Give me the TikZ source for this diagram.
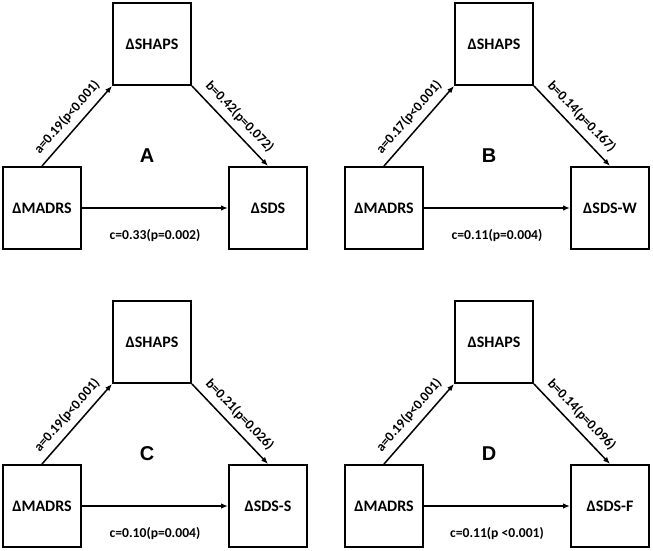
\documentclass[tikz,border=0pt]{standalone}
\usepackage{fontspec}
\setmainfont{Carlito}
\newfontfamily\letterfont{Liberation Sans}
\usetikzlibrary{arrows.meta}
\tikzset{
  varbox/.style={draw, line width=2pt, minimum width=78pt, minimum height=82pt, inner sep=0pt,
    font=\fontsize{16}{19}\selectfont\bfseries},
  pathline/.style={line width=1.5pt, -{Latex[length=7pt,width=5.5pt]}},
  coef/.style={font=\fontsize{13.6}{16}\selectfont\bfseries, inner sep=0pt},
  panelletter/.style={font=\fontsize{20}{24}\selectfont\letterfont\bfseries}
}
\newcommand{\mediationpanel}[8]{%
  \begin{scope}[shift={(#1,#2)}]
    \node[varbox] (S#3) at (152,44) {ΔSHAPS};
    \node[varbox] (M#3) at (42,208) {ΔMADRS};
    \node[varbox] (D#3) at (268,208) {Δ#4};
    \node[panelletter] (L#3) at (147,156) {#8};
    \draw[pathline] (M#3.north) -- node[coef, midway, sloped, above=6.5pt] (a#3) {#5} (S#3.south west);
    \draw[pathline] (S#3.south east) -- node[coef, midway, sloped, above=6.5pt] (b#3) {#6} (D#3.north);
    \draw[pathline] (M#3.east) -- node[coef, midway, yshift=-28pt] (c#3) {#7} (D#3.west);
  \end{scope}}
\begin{document}
\begin{tikzpicture}[x=1pt, y=-1pt]
  \useasboundingbox[fill=white] (0,0) rectangle (653,551);
  \mediationpanel{0}{0}{A}{SDS}{a=0.19(p<0.001)}{b=0.42(p=0.072)}{c=0.33(p=0.002)}{A}
  \mediationpanel{342}{0}{B}{SDS-W}{a=0.17(p<0.001)}{b=0.14(p=0.167)}{c=0.11(p=0.004)}{B}
  \mediationpanel{0}{298}{C}{SDS-S}{a=0.19(p<0.001)}{b=0.21(p=0.026)}{c=0.10(p=0.004)}{C}
  \mediationpanel{342}{298}{D}{SDS-F}{a=0.19(p<0.001)}{b=0.14(p=0.096)}{c=0.11(p <0.001)}{D}
\end{tikzpicture}
\end{document}
